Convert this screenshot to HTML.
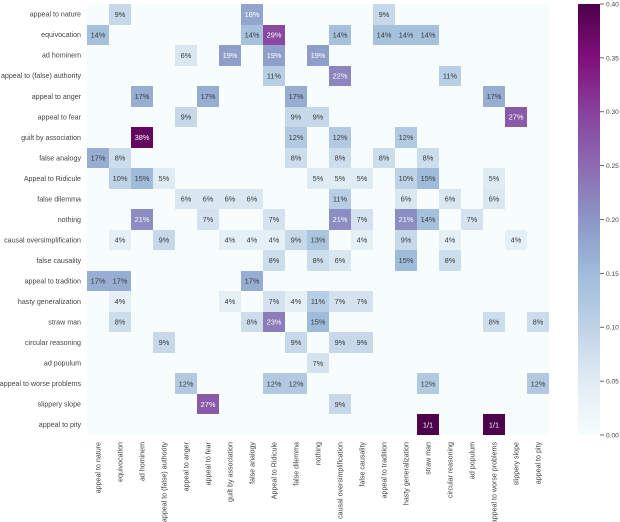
<!DOCTYPE html>
<html>
<head>
<meta charset="utf-8">
<style>
html,body{margin:0;padding:0;background:#fff;width:620px;height:522px;overflow:hidden}
svg{display:block}
text{font-family:"Liberation Sans",sans-serif}
</style>
</head>
<body>
<svg id="chart" width="620" height="522" viewBox="0 0 620 522" xmlns="http://www.w3.org/2000/svg">
<defs><linearGradient id="bupu" x1="0" y1="1" x2="0" y2="0"></linearGradient></defs>
<g id="cells"></g>
<g id="annots"></g>
<g id="ylabels"></g>
<g id="xlabels"></g>
<g id="cbar"></g>
</svg>
<script>
const categories = ["appeal to nature","equivocation","ad hominem","appeal to (false) authority","appeal to anger","appeal to fear","guilt by association","false analogy","Appeal to Ridicule","false dilemma","nothing","causal oversimplification","false causality","appeal to tradition","hasty generalization","straw man","circular reasoning","ad populum","appeal to worse problems","slippery slope","appeal to pity"];
const values = [
[0,9,0,0,0,0,0,18,0,0,0,0,0,9,0,0,0,0,0,0,0],
[14,0,0,0,0,0,0,14,29,0,0,14,0,14,14,14,0,0,0,0,0],
[0,0,0,0,6,0,19,0,19,0,19,0,0,0,0,0,0,0,0,0,0],
[0,0,0,0,0,0,0,0,11,0,0,22,0,0,0,0,11,0,0,0,0],
[0,0,17,0,0,17,0,0,0,17,0,0,0,0,0,0,0,0,17,0,0],
[0,0,0,0,9,0,0,0,0,9,9,0,0,0,0,0,0,0,0,27,0],
[0,0,38,0,0,0,0,0,0,12,0,12,0,0,12,0,0,0,0,0,0],
[17,8,0,0,0,0,0,0,0,8,0,8,0,8,0,8,0,0,0,0,0],
[0,10,15,5,0,0,0,0,0,0,5,5,5,0,10,15,0,0,5,0,0],
[0,0,0,0,6,6,6,6,0,0,0,11,0,0,6,0,6,0,6,0,0],
[0,0,21,0,0,7,0,0,7,0,0,21,7,0,21,14,0,7,0,0,0],
[0,4,0,9,0,0,4,4,4,9,13,0,4,0,9,0,4,0,0,4,0],
[0,0,0,0,0,0,0,0,8,0,8,6,0,0,15,0,8,0,0,0,0],
[17,17,0,0,0,0,0,17,0,0,0,0,0,0,0,0,0,0,0,0,0],
[0,4,0,0,0,0,4,0,7,4,11,7,7,0,0,0,0,0,0,0,0],
[0,8,0,0,0,0,0,8,23,0,15,0,0,0,0,0,0,0,8,0,8],
[0,0,0,9,0,0,0,0,0,9,0,9,9,0,0,0,0,0,0,0,0],
[0,0,0,0,0,0,0,0,0,0,7,0,0,0,0,0,0,0,0,0,0],
[0,0,0,0,12,0,0,0,12,12,0,0,0,0,0,12,0,0,0,0,12],
[0,0,0,0,0,27,0,0,0,0,0,9,0,0,0,0,0,0,0,0,0],
[0,0,0,0,0,0,0,0,0,0,0,0,0,0,0,100,0,0,100,0,0]
];
const colorbarTicks = [0,0.05,0.10,0.15,0.20,0.25,0.30,0.35,0.40];
const palette = ["#f7fcfd","#e0ecf4","#bfd3e6","#9ebcda","#8c96c6","#8c6bb1","#88419d","#810f7c","#4d004b"];

const NS = "http://www.w3.org/2000/svg";
const plot = {left:87, right:549, top:4, bottom:435};
const vmax = 0.4;
const n = categories.length;
const xScale = i => plot.left + (plot.right - plot.left) * i / n;
const yScale = i => plot.top + (plot.bottom - plot.top) * i / n;
const cbar = {left:578, right:600};
const cbarY = v => plot.bottom - (plot.bottom - plot.top) * v / vmax;

function hexRgb(h){return [1,3,5].map(k=>parseInt(h.substr(k,2),16));}
function colorRgb(v){
  const t = Math.min(Math.max(v / vmax, 0), 1) * (palette.length - 1);
  const i = Math.min(Math.floor(t), palette.length - 2);
  const a = hexRgb(palette[i]), b = hexRgb(palette[i + 1]);
  return a.map((c, k) => Math.round(c + (b[k] - c) * (t - i)));
}
function make(tag, attrs, parent){
  const el = document.createElementNS(NS, tag);
  for (const k in attrs) el.setAttribute(k, attrs[k]);
  parent.appendChild(el);
  return el;
}
function slug(s){return s.toLowerCase().replace(/[^a-z]+/g, '-').replace(/-$/,'');}

const cellsG = document.getElementById('cells');
const annotsG = document.getElementById('annots');
const ylabG = document.getElementById('ylabels');
const xlabG = document.getElementById('xlabels');
const cbarG = document.getElementById('cbar');
const grad = document.getElementById('bupu');

values.forEach((row, r) => {
  row.forEach((pct, c) => {
    const v = pct / 100;
    const rgb = colorRgb(v);
    const x0 = Math.round(xScale(c)), x1 = Math.round(xScale(c + 1));
    const y0 = Math.round(yScale(r)), y1 = Math.round(yScale(r + 1));
    const cell = make('rect', {x:x0, y:y0, width:x1 - x0, height:y1 - y0, fill:'rgb(' + rgb.join(',') + ')', 'shape-rendering':'crispEdges'}, cellsG);
    
    
    if (pct > 0) {
      const lum = 0.2126 * rgb[0] + 0.7152 * rgb[1] + 0.0722 * rgb[2];
      const t = make('text', {x:xScale(c + 0.5), y:yScale(r + 0.5) + 2.6, 'text-anchor':'middle', 'font-size':'7.4', fill: lum < 168 ? '#ffffff' : '#3a3a3a'}, annotsG);
      
      
      t.textContent = pct >= 100 ? '1/1' : pct + '%';
    }
  });
});

categories.forEach((name, i) => {
  const yl = make('text', {x:81, y:yScale(i + 0.5) + 2.4, 'text-anchor':'end', 'font-size':'7.1', fill:'#444444'}, ylabG);
  
  
  yl.textContent = name;
  const cx = xScale(i + 0.5) + 2.4;
  const xl = make('text', {x:cx, y:442, transform:'rotate(-90 ' + cx + ' 442)', 'text-anchor':'end', 'font-size':'7.1', fill:'#444444'}, xlabG);
  
  
  xl.textContent = name;
});

palette.forEach((col, i) => {
  make('stop', {offset:(i / (palette.length - 1) * 100) + '%', 'stop-color':col}, grad);
});
const bar = make('rect', {x:cbar.left, y:plot.top, width:cbar.right - cbar.left, height:plot.bottom - plot.top, fill:'url(#bupu)'}, cbarG);


colorbarTicks.forEach(v => {
  const y = cbarY(v);
  const tk = make('line', {x1:cbar.right, x2:cbar.right + 4, y1:y, y2:y, stroke:'#444444', 'stroke-width':'0.8'}, cbarG);
  
  
  const lb = make('text', {x:cbar.right + 6, y:y + 2.4, 'font-size':'6.6', fill:'#444444'}, cbarG);
  
  
  lb.textContent = v.toFixed(2);
});
</script>
</body>
</html>
